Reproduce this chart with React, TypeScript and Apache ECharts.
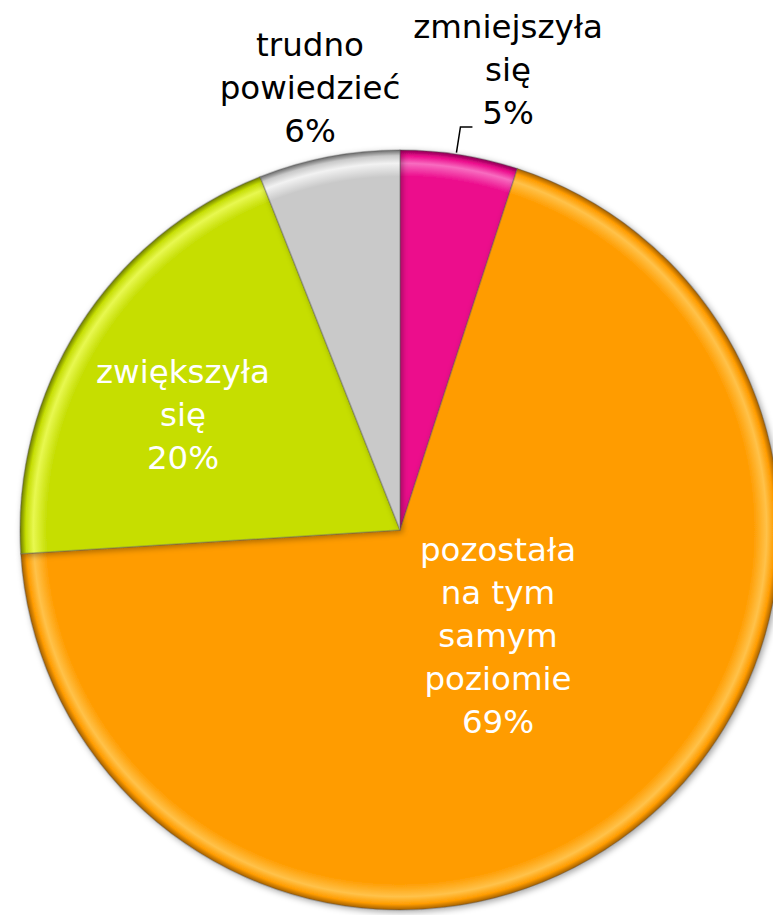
import React, { useEffect, useRef } from "react";
import * as echarts from "echarts";

const categories = [
  "zmniejszyła\nsię",
  "pozostała\nna tym\nsamym\npoziomie",
  "zwiększyła\nsię",
  "trudno\npowiedzieć",
];
const values = [5, 69, 20, 6];
const colors = ["#EC0B8C", "#FF9C00", "#C6DE05", "#C9C9C9"];
const rimLight = ["#F86CC0", "#FFC24A", "#E8F850", "#F2F2F2"];
const rimDark = ["#8A0052", "#A05E00", "#6E7C00", "#6A6A6A"];
const labelColors = ["#000000", "#FFFFFF", "#FFFFFF", "#000000"];
// label centre offsets from the pie centre (px)
const labelOffsets = [
  [108, -460],
  [98, 106],
  [-217, -115],
  [-90, -442],
];

const CX = 400;
const CY = 530;
const R = 380;

export default function App() {
  const ref = useRef<HTMLDivElement>(null);
  useEffect(() => {
    if (!ref.current) return;
    const chart = echarts.init(ref.current, null, { renderer: "svg" });
    const data = categories.map((name, i) => ({
      name,
      value: values[i],
      itemStyle: {
        color: new echarts.graphic.RadialGradient(
          CX,
          CY,
          R,
          [
            { offset: 0, color: colors[i] },
            { offset: 0.93, color: colors[i] },
            { offset: 0.965, color: rimLight[i] },
            { offset: 0.985, color: colors[i] },
            { offset: 1, color: rimDark[i] },
          ],
          true
        ),
      },
      label: {
        color: labelColors[i],
        position: i === 0 || i === 3 ? "outside" : "inside",
      },
      labelLine: { show: i === 0, length: 12, length2: 8 },
    }));
    const total = values.reduce((a, b) => a + b, 0);
    chart.setOption({
      animation: false,
      series: [
        {
          type: "pie",
          center: [CX, CY],
          radius: R,
          startAngle: 90,
          clockwise: true,
          avoidLabelOverlap: false,
          data,
          itemStyle: {
            borderColor: "rgba(90,90,90,0.35)",
            borderWidth: 1.5,
            shadowBlur: 6,
            shadowColor: "rgba(0,0,0,0.35)",
            shadowOffsetX: 2,
            shadowOffsetY: 2,
          },
          label: {
            show: true,
            formatter: (p: any) => `${p.name}\n${p.value}%`,
            fontFamily: "DejaVu Sans",
            fontSize: 32.5,
            lineHeight: 43,
            align: "center",
          },
          labelLine: {
            lineStyle: { color: "#000", width: 1.5 },
          },
          emphasis: { disabled: true },
          labelLayout: (p: any) => {
            const i = p.dataIndex;
            const o = labelOffsets[i];
            const res: any = {
              x: CX + o[0],
              y: CY + o[1],
              align: "center",
              verticalAlign: "middle",
            };
            if (i === 0) {
              const mid = (values[0] / total) * Math.PI;
              const x0 = CX + R * Math.sin(mid) - 3;
              const y0 = CY - R * Math.cos(mid) - 2;
              const yl = CY + o[1] + 57;
              res.labelLinePoints = [
                [x0, y0],
                [x0 + 4, yl],
                [x0 + 16, yl],
              ];
            }
            return res;
          },
        },
      ],
    });
    return () => chart.dispose();
  }, []);
  return (
    <div
      ref={ref}
      style={{ position: "absolute", left: 0, top: 0, width: 773, height: 915, background: "#fff" }}
    />
  );
}
